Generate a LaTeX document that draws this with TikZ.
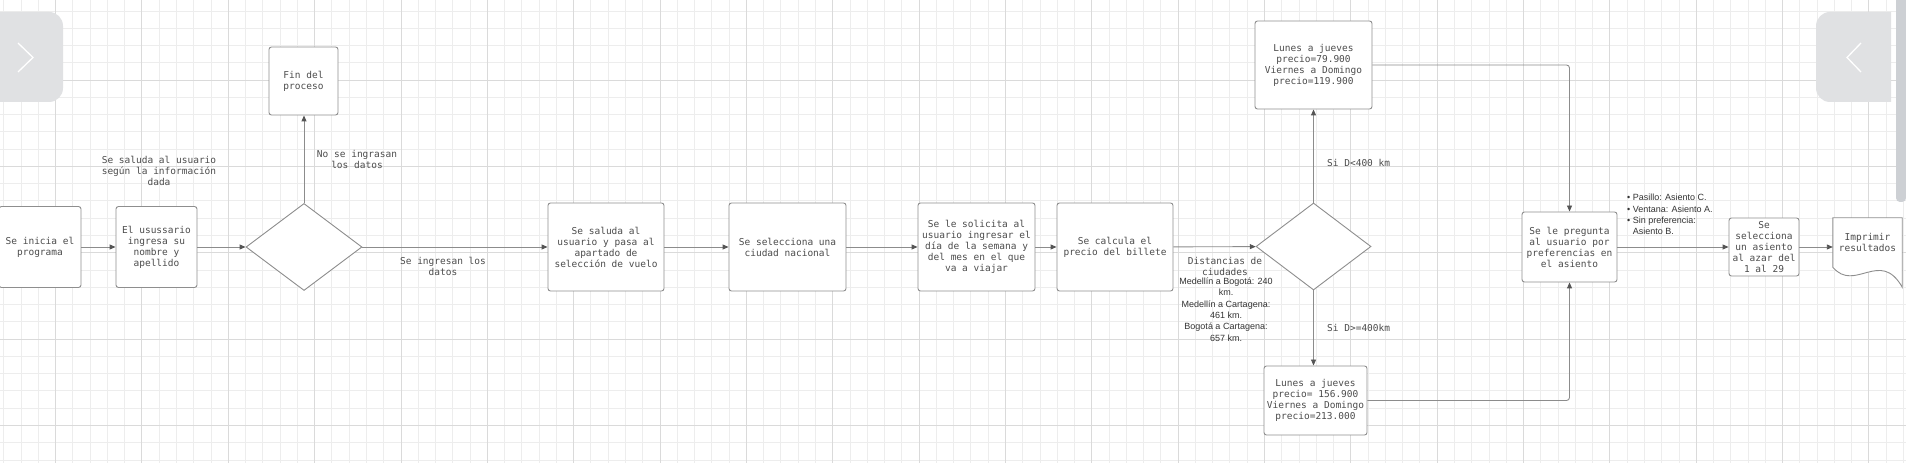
\documentclass[tikz,border=0pt]{standalone}
\usepackage{fontspec}
\setmonofont{DejaVu Sans Mono}
\setsansfont{Liberation Sans}
\usepackage{xcolor}
\usetikzlibrary{shapes.geometric, arrows.meta}
\definecolor{cuadriculafina}{HTML}{EDEDED}
\definecolor{cuadriculagruesa}{HTML}{DADADA}
\definecolor{borde}{HTML}{8E8E8E}
\definecolor{linea}{HTML}{8C8C8C}
\definecolor{punta}{HTML}{555555}
\definecolor{texto}{HTML}{4C4C4C}
\definecolor{textonota}{HTML}{333333}
\definecolor{panel}{HTML}{E0E1E3}
\definecolor{barra}{HTML}{CDD0D4}

\begin{document}
\begin{tikzpicture}[x=1pt, y=1pt,
        caja/.style={draw=borde, fill=white, rounded corners=2.5pt, line width=0.9pt, align=center, inner sep=0pt, text=texto, font=\ttfamily\fontsize{9.5}{11}\selectfont},
        decision/.style={diamond, draw=borde, fill=white, line width=0.9pt, inner sep=0pt},
        flecha/.style={draw=linea, line width=0.9pt, -{Triangle[length=6pt, width=5pt, color=punta]}},
        etiqueta/.style={align=center, inner sep=0pt, text=texto, font=\ttfamily\fontsize{9.5}{11}\selectfont},
        nota/.style={inner sep=0pt, text=textonota, font=\sffamily\fontsize{9}{11.3}\selectfont}]

        \useasboundingbox (0,0) rectangle (1906,463);
        \fill[white] (0,0) rectangle (1906,463);

        \begin{scope}[shift={(3.69,3.06)}]
            \draw[cuadriculafina, line width=0.8pt, step=17.27pt] (-20,-20) grid (1930,490);
        \end{scope}
        \begin{scope}[shift={(55.5,37.6)}]
            \draw[cuadriculagruesa, line width=0.8pt, step=86.35pt] (-90,-90) grid (1930,490);
        \end{scope}

        \fill[panel, rounded corners=14pt] (-20,361) rectangle (63,451);
        \draw[white, line width=1.3pt] (18,420) -- (33,405.5) -- (18,391);
        \begin{scope}
            \clip (0,0) rectangle (1891,463);
            \fill[panel, rounded corners=14pt] (1816,361) rectangle (1930,451);
        \end{scope}
        \draw[white, line width=1.3pt] (1861,420) -- (1847,405.5) -- (1861,391);
        \fill[barra, rounded corners=4pt] (1896,261) rectangle (1906,480);

        \node[caja, minimum width=82pt, minimum height=81pt] (inicio) at (40,216) {Se inicia el\\programa};
        \node[caja, minimum width=81pt, minimum height=81pt] (nombre) at (156.5,216) {El usussario\\ingresa su\\nombre y\\apellido};
        \node[decision, minimum width=116pt, minimum height=87pt] (decision1) at (304,216) {};
        \node[caja, minimum width=69pt, minimum height=68pt] (fin) at (303.5,382) {Fin del\\proceso};
        \node[caja, minimum width=116pt, minimum height=88pt] (saludo) at (606,216) {Se saluda al\\usuario y pasa al\\apartado de\\selección de vuelo};
        \node[caja, minimum width=117pt, minimum height=88pt] (ciudad) at (787.5,216) {Se selecciona una\\ciudad nacional};
        \node[caja, minimum width=117pt, minimum height=88pt] (dia) at (976.5,216) {Se le solicita al\\usuario ingresar el\\día de la semana y\\del mes en el que\\va a viajar};
        \node[caja, minimum width=116pt, minimum height=88pt] (precio) at (1115,216) {Se calcula el\\precio del billete};
        \node[decision, minimum width=115pt, minimum height=87pt] (decision2) at (1313.5,216.5) {};
        \node[caja, minimum width=117pt, minimum height=88pt] (tarifa1) at (1313.5,398) {Lunes a jueves\\precio=79.900\\Viernes a Domingo\\precio=119.900};
        \node[caja, minimum width=103pt, minimum height=69pt] (tarifa2) at (1315.5,62.5) {Lunes a jueves\\precio= 156.900\\Viernes a Domingo\\precio=213.000};
        \node[caja, minimum width=95pt, minimum height=70pt] (pregunta) at (1569.5,216) {Se le pregunta\\al usuario por\\preferencias en\\el asiento};
        \node[caja, minimum width=70pt, minimum height=58pt] (asiento) at (1764,216) {Se\\selecciona\\un asiento\\al azar del\\1 al 29};
        \node[minimum width=69pt, minimum height=69pt, inner sep=0pt] (imprimir) at (1867.5,210.5) {};
        \draw[borde, line width=0.9pt, fill=white] (imprimir.south east) .. controls ([xshift=-22pt, yshift=39pt]imprimir.south east) and ([xshift=22pt, yshift=-6pt]imprimir.south west) .. ([yshift=20pt]imprimir.south west) -- (imprimir.north west) -- (imprimir.north east) -- cycle;
        \node[etiqueta] (imprimirtexto) at (1867.5,221) {Imprimir\\resultados};

        \node[etiqueta] (saludoinfo) at (159,292) {Se saluda al usuario\\según la información\\dada};
        \node[etiqueta] (noingresan) at (357,304) {No se ingrasan\\los datos};
        \node[etiqueta] (siingresan) at (443,196.5) {Se ingresan los\\datos};
        \node[etiqueta] (distancias) at (1225,196.5) {Distancias de\\ciudades};
        \node[nota, align=center] (rutas) at (1226,153.5) {Medellín a Bogotá: 240\\km.\\Medellín a Cartagena:\\461 km.\\Bogotá a Cartagena:\\657 km.};
        \node[etiqueta, anchor=west] (menor) at (1327,300) {Si D<400 km};
        \node[etiqueta, anchor=west] (mayor) at (1327,135) {Si D>=400km};
        \node[nota, align=left, anchor=west] (preferencias) at (1627,248.5) {\textbullet\ Pasillo: Asiento C.\\\textbullet\ Ventana: Asiento A.\\\textbullet\ Sin preferencia:\\\phantom{\textbullet\ }Asiento B.};

        \draw[flecha] (inicio) -- (nombre);
        \draw[flecha] (nombre) -- (decision1);
        \draw[flecha] (decision1.north) -- (decision1.north |- fin.south);
        \draw[flecha] (decision1) -- (saludo);
        \draw[flecha] (saludo) -- (ciudad);
        \draw[flecha] (ciudad) -- (dia);
        \draw[flecha] (dia) -- (precio);
        \draw[flecha] (precio) -- (decision2);
        \draw[flecha] (decision2.north) -- (decision2.north |- tarifa1.south);
        \draw[flecha] (decision2.south) -- (decision2.south |- tarifa2.north);
        \draw[flecha, rounded corners=3pt] (tarifa1.east) -| (pregunta.north);
        \draw[flecha, rounded corners=3pt] (tarifa2.east) -| (pregunta.south);
        \draw[flecha] (pregunta) -- (asiento);
        \draw[flecha] (asiento) -- (asiento -| imprimir.west);
    \end{tikzpicture}
\end{document}
